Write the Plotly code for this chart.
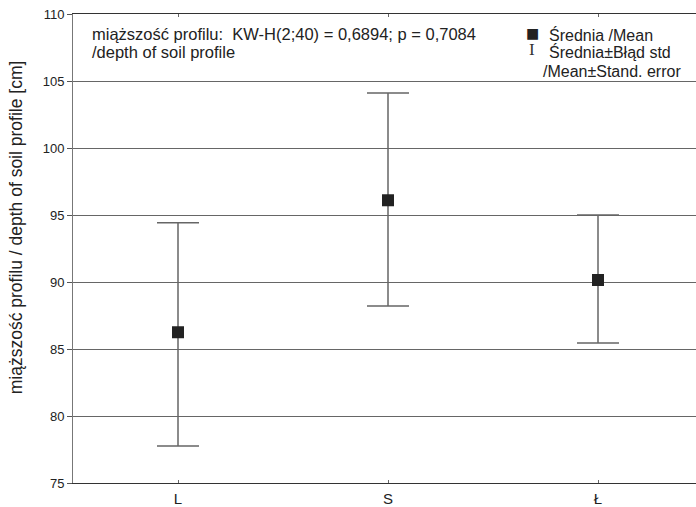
import plotly.graph_objects as go

categories = ["L", "S", "Ł"]
means = [86.25, 96.1, 90.15]
upper = [94.43, 104.1, 95.0]
lower = [77.76, 88.2, 85.44]
y_ticks = [75, 80, 85, 90, 95, 100, 105, 110]

xpos = [1, 2, 3]
err_plus = [u - m for u, m in zip(upper, means)]
err_minus = [m - l for m, l in zip(means, lower)]

font = "Liberation Sans, Arial, sans-serif"
L, T, W, H = 73, 14, 623, 475


def px(x):
    return (x - L) / W


def py(y):
    return 1 - (y - T) / H


fig = go.Figure()
fig.add_trace(go.Scatter(
    x=xpos, y=means, mode="markers",
    marker=dict(symbol="square", size=12, color="#222222"),
    error_y=dict(type="data", symmetric=False, array=err_plus, arrayminus=err_minus,
                 width=21, thickness=1.5, color="#666666"),
    showlegend=False, hoverinfo="skip",
))

fig.update_layout(
    width=696, height=507,
    margin=dict(l=73, r=0, t=14, b=18),
    paper_bgcolor="white", plot_bgcolor="white",
    font=dict(family=font, size=13, color="#222222"),
    xaxis=dict(
        range=[0.5, 3.5 - 7 / 210], tickvals=xpos, ticktext=categories,
        showgrid=False, zeroline=False, showline=True, linecolor="#333333", linewidth=1,
        mirror="ticks", ticks="inside", ticklen=3, tickcolor="#666666",
        tickfont=dict(size=15, family=font), ticklabelstandoff=2,
    ),
    yaxis=dict(
        range=[75, 110], tickvals=y_ticks, showgrid=True, gridcolor="#666666", gridwidth=1,
        zeroline=False, showline=True, linecolor="#777777", linewidth=1,
        ticks="outside", ticklen=5, tickcolor="#555555",
        tickfont=dict(size=13, family=font),
    ),
)

# y-axis title
fig.add_annotation(
    xref="paper", yref="paper", x=px(16), y=py(230), xanchor="center", yanchor="middle",
    textangle=-90, showarrow=False,
    text="miąższość profilu / depth of soil profile [cm]",
    font=dict(size=17.5, family=font, color="#222222"),
)

# test result text
fig.add_annotation(
    xref="paper", yref="paper", x=px(90), y=py(23), xanchor="left", yanchor="top",
    showarrow=False, align="left",
    text="miąższość profilu:\u00a0 KW-H(2;40) = 0,6894; p = 0,7084",
    font=dict(size=16.5, family=font, color="#222222"),
)
fig.add_annotation(
    xref="paper", yref="paper", x=px(90), y=py(41), xanchor="left", yanchor="top",
    showarrow=False, align="left",
    text="/depth of soil profile",
    font=dict(size=16.5, family=font, color="#222222"),
)

# legend
fig.add_annotation(
    xref="paper", yref="paper", x=px(532), y=py(33), xanchor="center", yanchor="middle",
    showarrow=False, text="■", font=dict(size=14, family="DejaVu Sans", color="#222222"),
)
fig.add_annotation(
    xref="paper", yref="paper", x=px(532), y=py(50), xanchor="center", yanchor="middle",
    showarrow=False, text="I", font=dict(size=17, family="Liberation Serif", color="#333333"),
)
legend_lines = ["Średnia /Mean", "Średnia±Błąd std", "/Mean±Stand. error"]
legend_pos = [(547, 24), (547, 41), (541, 62)]
for txt, (lx, ly) in zip(legend_lines, legend_pos):
    fig.add_annotation(
        xref="paper", yref="paper", x=px(lx), y=py(ly), xanchor="left", yanchor="top",
        showarrow=False, align="left", text=txt,
        font=dict(size=16, family=font, color="#222222"),
    )

fig.write_html("out.html")
